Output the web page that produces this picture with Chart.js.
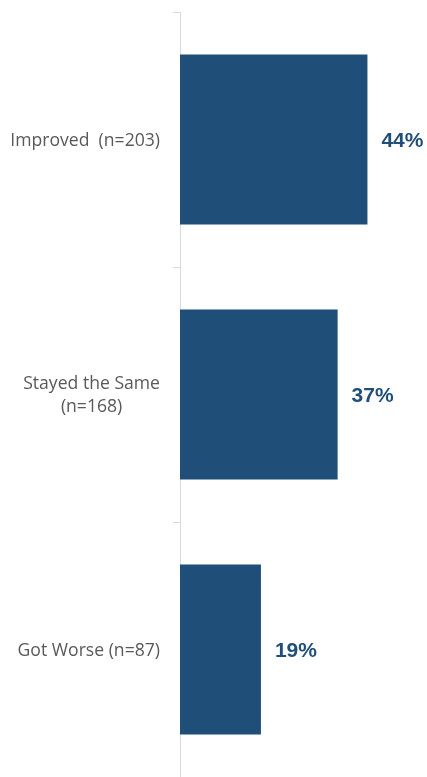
<!doctype html>
<html lang="en">
  <head>
    <meta charset="utf-8">
    <title>Change</title>
    <style>
      html, body { margin: 0; padding: 0; background: #fff; }
      #wrap { width: 427px; height: 777px; position: relative; }
    </style>
  </head>
  <body>
    <div id="wrap">
      <canvas id="myChart"></canvas>
    </div>

    <script src="https://cdn.jsdelivr.net/npm/chart.js"></script>

    <script>
      // categories (multi-line where the picture wraps) and percentages
      const categories = [
        ['Improved  (n=203)'],
        ['Stayed the Same', '(n=168)'],
        ['Got Worse (n=87)']
      ];
      const values = [44, 37, 19];
      const valueLabels = ['44%', '37%', '19%'];

      const barColor = '#1f4e79';
      const axisColor = '#d9d9d9';

      // draws the category names (right aligned, wrapped lines centred) and the value labels
      const labelPlugin = {
        id: 'labels',
        afterDraw(chart) {
          const ctx = chart.ctx;
          const yScale = chart.scales.y;
          const meta = chart.getDatasetMeta(0);
          ctx.save();

          ctx.font = '17.6px "Open Sans"';
          ctx.fillStyle = '#595959';
          ctx.textBaseline = 'middle';
          ctx.textAlign = 'center';
          const right = 160;
          const lineH = 22.5;
          categories.forEach((lines, i) => {
            const yc = yScale.getPixelForValue(i) + 1;
            const w = Math.max(...lines.map(l => ctx.measureText(l).width));
            const cx = right - w / 2;
            lines.forEach((l, j) => {
              ctx.fillText(l, cx, yc + (j - (lines.length - 1) / 2) * lineH);
            });
          });

          ctx.font = 'bold 21px "Liberation Sans", Arial, sans-serif';
          ctx.fillStyle = barColor;
          ctx.textAlign = 'left';
          meta.data.forEach((bar, i) => {
            ctx.fillText(valueLabels[i], bar.x + 14, bar.y + 2);
          });
          ctx.restore();
        }
      };

      const data = {
        labels: categories,
        datasets: [{
          data: values,
          backgroundColor: barColor,
          borderWidth: 0,
          barPercentage: 0.667,
          categoryPercentage: 1
        }]
      };

      const config = {
        type: 'bar',
        data,
        options: {
          indexAxis: 'y',
          responsive: true,
          maintainAspectRatio: false,
          animation: false,
          layout: {
            padding: { top: 12, right: 34, bottom: 0, left: 0 }
          },
          plugins: {
            legend: { display: false },
            tooltip: { enabled: false }
          },
          scales: {
            x: {
              display: false,
              min: 0,
              max: 50
            },
            y: {
              afterFit(scale) { scale.width = 180; },
              ticks: { display: false },
              grid: {
                offset: true,
                drawOnChartArea: false,
                drawTicks: true,
                tickLength: 7,
                color: axisColor
              },
              border: { display: true, color: axisColor, width: 1 }
            }
          }
        },
        plugins: [labelPlugin]
      };

      const ctx = document.getElementById('myChart');
      const myChart = new Chart(ctx, config);
    </script>
  </body>
</html>
